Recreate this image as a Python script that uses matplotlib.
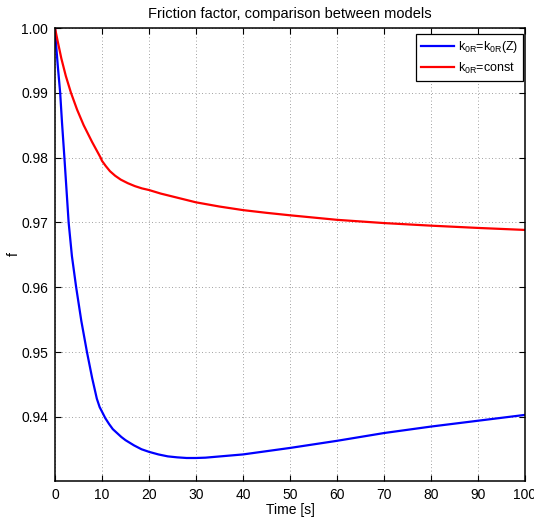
import matplotlib
matplotlib.use("Agg")
import matplotlib.pyplot as plt
from matplotlib.ticker import FormatStrFormatter

# friction factor vs time, two models
t_var = [0, 0.3, 0.6, 1.1, 1.5, 2.0, 2.9, 3.6, 4.5, 5.6, 6.8, 7.9, 8.9, 9.5, 10,
         10.7, 11.5, 12.3, 13.2, 14.1, 15, 16.8, 18.4, 20, 22, 24, 26, 28, 30, 32,
         36, 40, 50, 60, 70, 80, 90, 100]
f_var = [1.0, 0.9968, 0.9941, 0.990, 0.9853, 0.980, 0.970, 0.9648, 0.960, 0.9548,
         0.950, 0.9460, 0.9428, 0.9415, 0.9408, 0.9398, 0.9389, 0.9381, 0.9375, 0.9369,
         0.9364, 0.9356, 0.9350, 0.9346, 0.9342, 0.9339, 0.93375, 0.93365, 0.93365,
         0.9337, 0.93395, 0.9342, 0.9352, 0.9363, 0.9375, 0.9385, 0.9394, 0.9403]

t_const = [0, 0.5, 1.35, 2.3, 3.4, 4.7, 6.1, 7.9, 9.7, 10, 10.8, 11.7, 12.8, 14, 15.5,
           17, 18.5, 20, 22.5, 25, 27.5, 30, 35, 40, 45, 50, 60, 70, 80, 90, 100]
f_const = [1.0, 0.9982, 0.9953, 0.9926, 0.990, 0.9874, 0.9850, 0.9824, 0.9800, 0.9795,
           0.9787, 0.9779, 0.9772, 0.9766, 0.97605, 0.9756, 0.97525, 0.9750, 0.97445,
           0.9740, 0.97355, 0.9731, 0.97245, 0.9719, 0.97148, 0.9711, 0.9704, 0.9699,
           0.9695, 0.96915, 0.96884]

labels = [r'k$_{\mathregular{0R}}$=k$_{\mathregular{0R}}$(Z)', r'k$_{\mathregular{0R}}$=const']

plt.rcParams['font.family'] = ['Liberation Sans', 'DejaVu Sans']
plt.rcParams['font.size'] = 10

fig = plt.figure(figsize=(5.34, 5.21), dpi=100)
ax = fig.add_axes([55/534, 40/521, 470/534, 453/521])

ax.plot(t_var, f_var, color='#0000ff', linewidth=1.6, label=labels[0])
ax.plot(t_const, f_const, color='#ff0000', linewidth=1.6, label=labels[1])

ax.set_xlim(0, 100)
ax.set_ylim(0.9301, 1.0)
ax.set_xticks(range(0, 101, 10))
ax.set_yticks([0.94, 0.95, 0.96, 0.97, 0.98, 0.99, 1.00])
ax.yaxis.set_major_formatter(FormatStrFormatter('%.2f'))
ax.tick_params(direction='in', top=True, right=True, length=4, width=0.8, pad=5)
ax.grid(True, linestyle=(0, (1, 3)), color='#808080', linewidth=0.6)
for s in ax.spines.values():
    s.set_linewidth(1.1)

ax.set_xlabel('Time [s]', labelpad=1)
ax.set_ylabel('f', labelpad=0)
ax.set_title('Friction factor, comparison between models', fontsize=10.5, pad=7)

leg = ax.legend(loc='upper right', bbox_to_anchor=(1 - 2/470, 1 - 6/453),
                borderaxespad=0, fancybox=False, framealpha=1, edgecolor='black',
                handlelength=2.6, handletextpad=0.3, fontsize=9, labelspacing=0.45)
leg.get_frame().set_linewidth(0.9)

fig.savefig('out.png', dpi=100)
